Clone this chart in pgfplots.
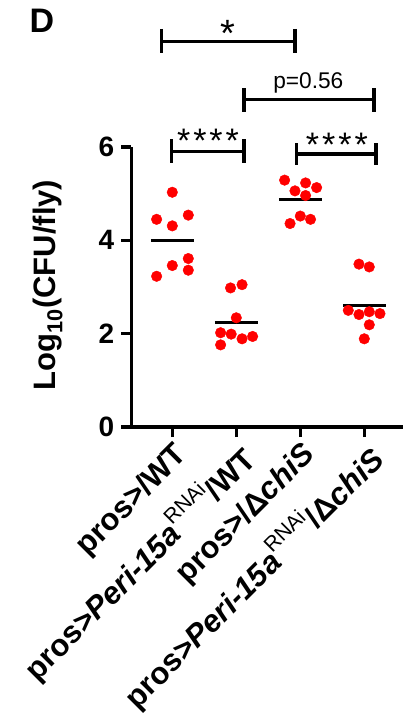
\documentclass[border=0pt]{standalone}
\usepackage{fontspec}
\setmainfont{Liberation Sans}
\usepackage{pgfplots}
\pgfplotsset{compat=1.18}
\newcommand{\rnai}{\raisebox{0.5em}{\fontsize{21bp}{21bp}\selectfont\mdseries RNAi}}
\begin{document}
\begin{tikzpicture}
\begin{axis}[
  at={(0,0)}, anchor=south west,
  scale only axis, width=271.5bp, height=280bp,
  xmin=0.3625, xmax=4.605, ymin=0, ymax=6,
  axis x line=bottom, axis y line=left,
  axis line style={-, line width=3.5bp},
  tick style={line width=3.5bp, black},
  major tick length=10bp, tick align=outside,
  xtick={1,2,3,4}, ytick={0,2,4,6},
  xticklabels={pros>/WT, pros>\textit{Peri-15a}\rnai/WT, pros>/Δ\textit{chiS}, pros>\textit{Peri-15a}\rnai/Δ\textit{chiS}},
  x tick label style={rotate=45, anchor=north east, inner sep=2bp, font=\fontsize{31bp}{33bp}\selectfont\bfseries},
  y tick label style={font=\fontsize{28bp}{30bp}\selectfont\bfseries, inner sep=0bp, xshift=-7bp},
  /pgf/number format/assume math mode=true,
  ylabel={Log\textsubscript{10}(CFU/fly)},
  ylabel style={at={(axis description cs:-0.3075,0.507)}, anchor=center, font=\fontsize{31bp}{33bp}\selectfont\bfseries},
  clip=false,
  unbounded coords=jump,
]
% data points
\addplot[only marks, mark=*, mark size=5.3bp, draw=red, fill=red, mark options={draw=red, fill=red}] table {
x y
1.00 5.03
0.755 4.45
1.25 4.54
1.00 4.31
1.25 3.61
1.00 3.46
1.25 3.36
0.755 3.23
};
\addplot[only marks, mark=*, mark size=5.3bp, draw=red, fill=red, mark options={draw=red, fill=red}] table {
x y
1.91 2.98
2.09 3.05
2.00 2.34
1.755 2.02
1.92 1.99
2.09 1.89
2.255 1.94
1.755 1.76
};
\addplot[only marks, mark=*, mark size=5.3bp, draw=red, fill=red, mark options={draw=red, fill=red}] table {
x y
2.755 5.29
3.083 5.23
3.255 5.13
2.917 5.06
3.083 4.96
3.00 4.52
3.16 4.45
2.84 4.36
};
\addplot[only marks, mark=*, mark size=5.3bp, draw=red, fill=red, mark options={draw=red, fill=red}] table {
x y
3.917 3.49
4.078 3.43
3.75 2.50
3.917 2.41
4.078 2.47
4.245 2.43
4.078 2.19
4.00 1.89
};
% means
\addplot[black, line width=3bp] coordinates {(0.664,4.00) (1.336,4.00)};
\addplot[black, line width=3bp] coordinates {(1.664,2.24) (2.336,2.24)};
\addplot[black, line width=3bp] coordinates {(2.664,4.88) (3.336,4.88)};
\addplot[black, line width=3bp] coordinates {(3.664,2.60) (4.336,2.60)};
% significance brackets
\addplot[black, line width=3.2bp] coordinates {(0.834,8.53) (0.834,8.01) (0.834,nan) (0.834,8.26) (2.917,8.26) (2.917,nan) (2.917,8.53) (2.917,8.01)};
\addplot[black, line width=3.2bp] coordinates {(2.12,7.26) (2.12,6.75) (2.12,nan) (2.12,7.02) (4.153,7.02) (4.153,nan) (4.153,7.26) (4.153,6.75)};
\addplot[black, line width=3.2bp] coordinates {(0.99,6.17) (0.99,5.66) (0.99,nan) (0.99,5.91) (2.12,5.91) (2.12,nan) (2.12,6.17) (2.12,5.66)};
\addplot[black, line width=3.2bp] coordinates {(2.944,6.08) (2.944,5.61) (2.944,nan) (2.944,5.85) (4.183,5.85) (4.183,nan) (4.183,6.08) (4.183,5.61)};
\node[anchor=base, inner sep=0, font=\fontsize{38bp}{40bp}\selectfont] at (axis cs:1.872,8.157) {*};
\node[anchor=base, inner sep=0, font=\fontsize{22.7bp}{24bp}\selectfont] at (axis cs:3.125,7.257) {p=0.56};
\node[anchor=base, inner sep=0, font=\fontsize{34bp}{36bp}\selectfont] at (axis cs:1.558,5.88) {*\kern3bp*\kern3bp*\kern3bp*};
\node[anchor=base, inner sep=0, font=\fontsize{34bp}{36bp}\selectfont] at (axis cs:3.573,5.79) {*\kern3bp*\kern3bp*\kern3bp*};
\node[anchor=base west, inner sep=0, font=\fontsize{34bp}{36bp}\selectfont\bfseries] at (axis description cs:-0.3757,1.4107) {D};
\end{axis}
\pgfresetboundingbox
\path (-131.5bp,-295bp) rectangle (271.5bp,427bp);
\end{tikzpicture}
\end{document}
